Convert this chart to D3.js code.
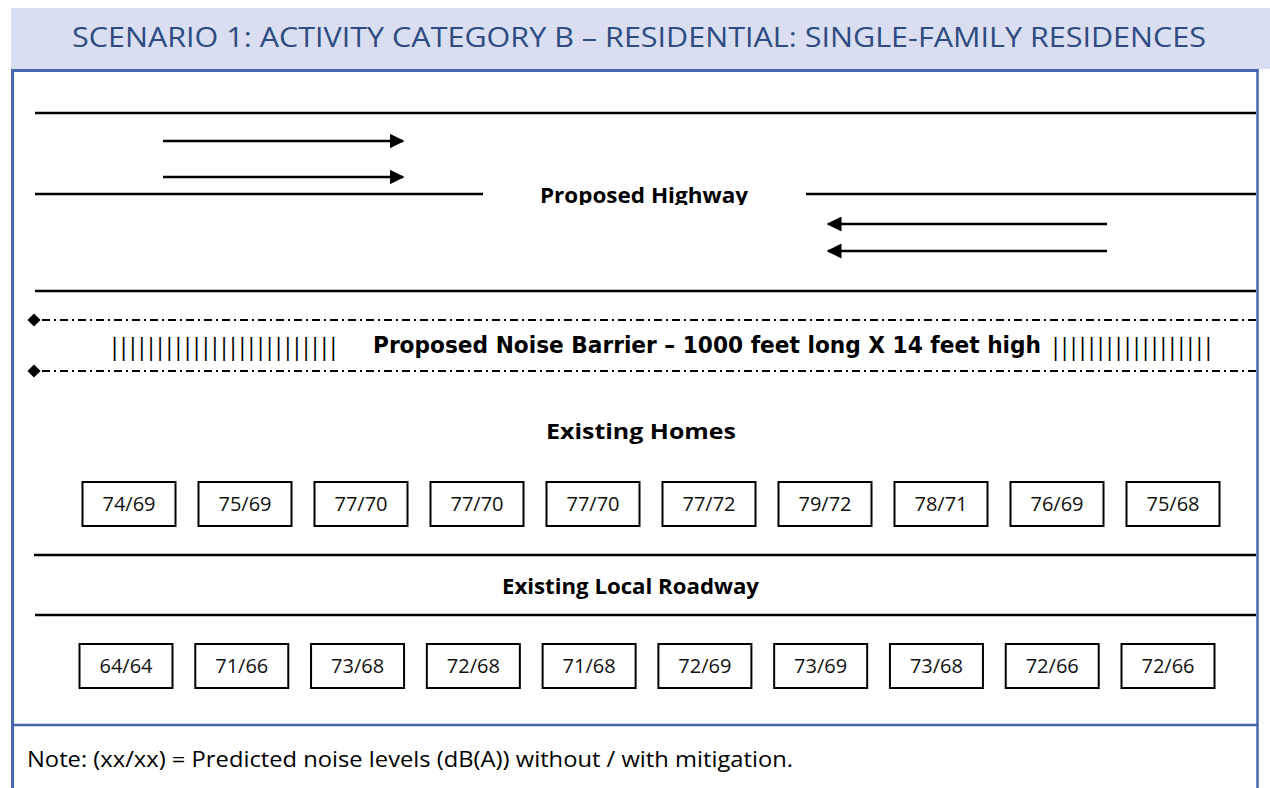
<!DOCTYPE html>
<html>
<head>
<meta charset="utf-8">
<script src="https://cdn.jsdelivr.net/npm/d3@7"></script>
<style>
  body { margin: 0; background: #fff; }
  text { font-family: "Open Sans", "Noto Sans", sans-serif; }
</style>
</head>
<body>
<div id="chart"></div>
<script>
// predicted noise levels dB(A): without / with mitigation
const homesWithout = [74, 75, 77, 77, 77, 77, 79, 78, 76, 75];
const homesWith    = [69, 69, 70, 70, 70, 72, 72, 71, 69, 68];
const roadWithout  = [64, 71, 73, 72, 71, 72, 73, 73, 72, 72];
const roadWith     = [64, 66, 68, 68, 68, 69, 69, 68, 66, 66];

const titleText = "SCENARIO 1: ACTIVITY CATEGORY B \u2013 RESIDENTIAL: SINGLE-FAMILY RESIDENCES";
const barrierText = "Proposed Noise Barrier \u2013 1000 feet long X 14 feet high";
const noteText = "Note: (xx/xx) = Predicted noise levels (dB(A)) without / with mitigation.";

const W = 1270, H = 788;
const blue = "#4a66ad";

const svg = d3.select("#chart").append("svg")
    .attr("width", W)
    .attr("height", H);

const defs = svg.append("defs");
defs.append("marker")
    .attr("id", "head")
    .attr("viewBox", "0 0 10 10")
    .attr("refX", 9).attr("refY", 5)
    .attr("markerWidth", 6).attr("markerHeight", 6)
    .attr("markerUnits", "strokeWidth")
    .attr("orient", "auto")
    .append("path").attr("d", "M0,0L10,5L0,10Z").attr("fill", "#000");
defs.append("clipPath").attr("id", "hwclip")
    .append("rect").attr("x", 0).attr("y", 0).attr("width", W).attr("height", 205);

// header band
svg.append("rect").attr("x", 11).attr("y", 8).attr("width", W - 11).attr("height", 61).attr("fill", "#d9dff0");
svg.append("text")
    .attr("x", 72).attr("y", 47)
    .attr("font-size", 28)
    .attr("fill", "#2f4b82")
    .attr("textLength", 1134).attr("lengthAdjust", "spacingAndGlyphs")
    .text(titleText);

// frame
const frame = svg.append("g").attr("stroke", blue).attr("fill", "none");
frame.append("line").attr("x1", 12.5).attr("x2", 12.5).attr("y1", 69).attr("y2", H).attr("stroke-width", 3);
frame.append("line").attr("x1", 11).attr("x2", 1258.5).attr("y1", 70.5).attr("y2", 70.5).attr("stroke-width", 3);
frame.append("line").attr("x1", 1257.5).attr("x2", 1257.5).attr("y1", 69).attr("y2", H).attr("stroke-width", 2.5);
frame.append("line").attr("x1", 11).attr("x2", 1258).attr("y1", 725).attr("y2", 725).attr("stroke-width", 2.5);

// road edges
const edges = [
  [35, 1256, 113], [35, 483, 194], [806, 1256, 194], [35, 1256, 291],
  [34, 1256, 555], [35, 1256, 615]
];
svg.append("g").selectAll("line").data(edges).join("line")
    .attr("x1", d => d[0]).attr("x2", d => d[1])
    .attr("y1", d => d[2]).attr("y2", d => d[2])
    .attr("stroke", "#000").attr("stroke-width", 2.5);

// traffic arrows
const arrows = [[163, 403, 141], [163, 403, 177], [1107, 828, 224], [1107, 828, 251]];
svg.append("g").selectAll("line").data(arrows).join("line")
    .attr("x1", d => d[0]).attr("x2", d => d[1])
    .attr("y1", d => d[2]).attr("y2", d => d[2])
    .attr("stroke", "#000").attr("stroke-width", 2.5)
    .attr("marker-end", "url(#head)");

svg.append("text")
    .attr("clip-path", "url(#hwclip)")
    .attr("x", 540).attr("y", 203)
    .attr("font-size", 21).attr("font-weight", "bold")
    .attr("textLength", 208).attr("lengthAdjust", "spacingAndGlyphs")
    .text("Proposed Highway");

// noise barrier
[320, 371].forEach(y => {
  svg.append("line")
      .attr("x1", 42).attr("x2", 1256).attr("y1", y).attr("y2", y)
      .attr("stroke", "#000").attr("stroke-width", 2)
      .attr("stroke-dasharray", "8,4,2,4");
  svg.append("path")
      .attr("d", d3.symbol(d3.symbolDiamond2, 110)())
      .attr("transform", `translate(34,${y})`)
      .attr("fill", "#000");
});
const bars = svg.append("g")
    .style("font-family", "'DejaVu Sans', Verdana, sans-serif")
    .attr("font-size", 24);
bars.append("text")
    .attr("x", 108).attr("y", 355)
    .attr("textLength", 232).attr("lengthAdjust", "spacing")
    .text("|".repeat(25));
bars.append("text")
    .attr("x", 1049).attr("y", 355)
    .attr("textLength", 166).attr("lengthAdjust", "spacing")
    .text("|".repeat(18));
svg.append("text")
    .attr("x", 373).attr("y", 353)
    .style("font-family", "'DejaVu Sans', Verdana, sans-serif")
    .attr("font-size", 22.5).attr("font-weight", "bold")
    .attr("textLength", 668).attr("lengthAdjust", "spacingAndGlyphs")
    .text(barrierText);

// section labels
svg.append("text")
    .attr("x", 546).attr("y", 439)
    .attr("font-size", 22).attr("font-weight", "bold")
    .attr("textLength", 190).attr("lengthAdjust", "spacingAndGlyphs")
    .text("Existing Homes");
svg.append("text")
    .attr("x", 502).attr("y", 594)
    .attr("font-size", 22).attr("font-weight", "bold")
    .attr("textLength", 257).attr("lengthAdjust", "spacingAndGlyphs")
    .text("Existing Local Roadway");

// receiver boxes
function receivers(without, withM, xRange, top) {
  const x = d3.scalePoint().domain(d3.range(without.length)).range(xRange);
  const bw = 93, bh = 44;
  const g = svg.append("g").selectAll("g").data(without).join("g")
      .attr("transform", (d, i) => `translate(${x(i) - bw / 2},${top})`);
  g.append("rect")
      .attr("width", bw).attr("height", bh)
      .attr("fill", "#fff").attr("stroke", "#000").attr("stroke-width", 2);
  g.append("text")
      .attr("x", bw / 2).attr("y", bh / 2 + 7)
      .attr("text-anchor", "middle")
      .attr("font-size", 20)
      .attr("fill", "#111")
      .text((d, i) => `${d}/${withM[i]}`);
}
receivers(homesWithout, homesWith, [129, 1173], 482);
receivers(roadWithout, roadWith, [126, 1168], 644);

// note
svg.append("text")
    .attr("x", 27).attr("y", 767)
    .attr("font-size", 22)
    .attr("textLength", 766).attr("lengthAdjust", "spacingAndGlyphs")
    .text(noteText);
</script>
</body>
</html>
